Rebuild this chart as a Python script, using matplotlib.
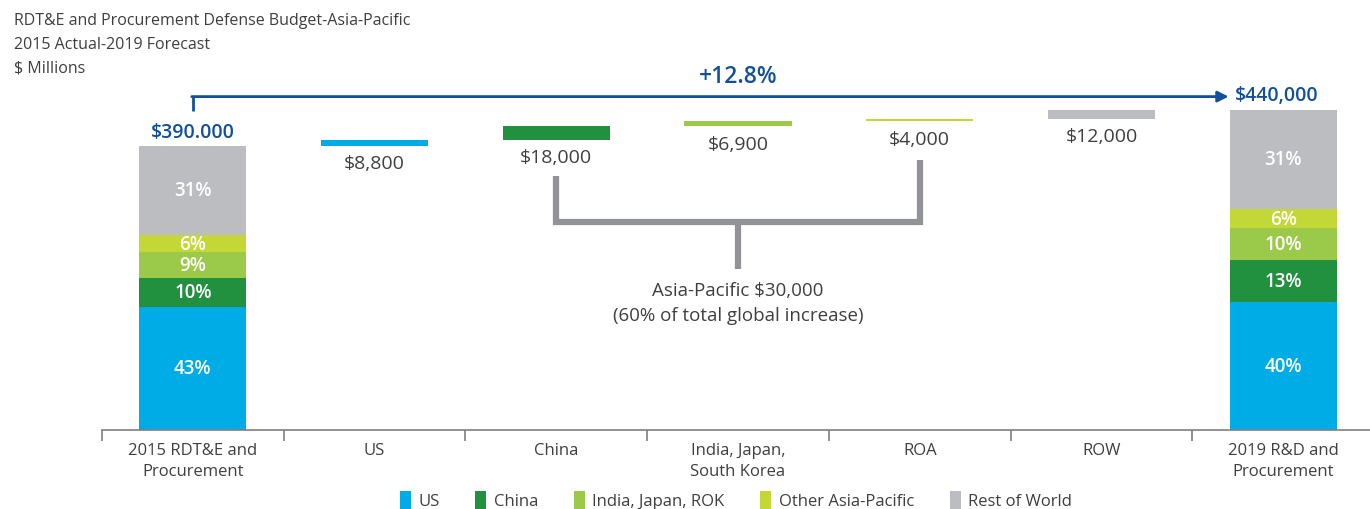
import matplotlib
matplotlib.use("Agg")
import matplotlib.pyplot as plt
from matplotlib.patches import Patch

plt.rcParams['font.family'] = ['Open Sans', 'DejaVu Sans']

# ---- data ----
categories = ["2015 RDT&E and\nProcurement", "US", "China", "India, Japan,\nSouth Korea",
              "ROA", "ROW", "2019 R&D and\nProcurement"]
segments = ["US", "China", "India, Japan, ROK", "Other Asia-Pacific", "Rest of World"]
total_2015 = 390000
total_2019 = 440000
share_2015 = [43, 10, 9, 6, 31]
share_2019 = [40, 13, 10, 6, 31]
delta_values = [8800, 18000, 6900, 4000, 12000]
delta_labels = ["$8,800", "$18,000", "$6,900", "$4,000", "$12,000"]
total_labels = ["$390.000", "$440,000"]
growth_label = "+12.8%"
asia_pacific_note = "Asia-Pacific $30,000\n(60% of total global increase)"

colors = ["#00ace6", "#21913f", "#9bca4a", "#c3d836", "#bcbdc1"]
blue = "#13509a"
gray_text = "#3f3f3f"
bracket_gray = "#929396"

fig = plt.figure(figsize=(13.7, 5.1), dpi=100)
ax = fig.add_axes([102/1370, 79/510, 1272/1370, 371/510])
px = 1373.3  # data units per pixel
ax.set_ylim(0, 371*px)
ax.set_xlim(-0.5, 6.5)
bw = 0.59

def stacked(x, total, shares):
    s = sum(shares)
    bottom = 0
    for sh, c in zip(shares, colors):
        h = total*sh/s
        ax.bar(x, h, bottom=bottom, width=bw, color=c, linewidth=0)
        ax.text(x, bottom + h/2, f"{sh}%", ha='center', va='center', color='white',
                fontsize=13.5, fontweight='semibold')
        bottom += h

stacked(0, total_2015, share_2015)
stacked(6, total_2019, share_2019)

# waterfall deltas
run = total_2015
for i, (v, lab, c) in enumerate(zip(delta_values, delta_labels, colors)):
    x = i + 1
    ax.bar(x, v, bottom=run, width=bw, color=c, linewidth=0)
    ax.annotate(lab, (x, run), xytext=(0, -6), textcoords='offset points',
                ha='center', va='top', fontsize=14, color=gray_text)
    run += v

# totals
ax.annotate(total_labels[0], (0, total_2015), xytext=(0, 3), textcoords='offset points',
            ha='center', va='bottom', fontsize=14, fontweight='semibold', color=blue)
y_arrow = total_2019 + 13*px
ax.plot([0, 0], [total_2015 + 35*px, y_arrow], color=blue, lw=2, solid_capstyle='butt')
ax.annotate('', xy=(5.70, y_arrow), xytext=(-0.006, y_arrow),
            arrowprops=dict(arrowstyle='-|>', color=blue, lw=2, mutation_scale=16,
                            shrinkA=0, shrinkB=0))
ax.text(5.735, y_arrow + 2*px, total_labels[1], ha='left', va='center', fontsize=14,
        fontweight='semibold', color=blue)
ax.text(3, y_arrow + 21*px, growth_label, ha='center', va='center', fontsize=16.5,
        fontweight='semibold', color=blue)

# bracket
yb = 208*px
ax.plot([2, 2, 4, 4], [254*px, yb, yb, 270*px], color=bracket_gray, lw=4.5,
        solid_joinstyle='miter', solid_capstyle='butt')
ax.plot([3, 3], [yb, 161*px], color=bracket_gray, lw=4.5, solid_capstyle='butt')
ax.text(3, 149*px, asia_pacific_note, ha='center', va='top', fontsize=13.5,
        color=gray_text, linespacing=1.52)

# axes styling
for s in ['top', 'right', 'left']:
    ax.spines[s].set_visible(False)
ax.spines['bottom'].set_color('#7f7f7f')
ax.spines['bottom'].set_linewidth(1.2)
ax.set_yticks([])
ax.set_xticks(range(7))
ax.set_xticklabels(categories, fontsize=12, color=gray_text, linespacing=1.35)
ax.tick_params(axis='x', which='major', length=0, pad=9)
ax.set_xticks([i - 0.5 for i in range(7)], minor=True)
ax.tick_params(axis='x', which='minor', length=8, width=1.2, color='#7f7f7f', direction='out')

# title
fig.text(14/1370, 1 - 13/510,
         "RDT&E and Procurement Defense Budget-Asia-Pacific\n2015 Actual-2019 Forecast\n$ Millions",
         ha='left', va='top', fontsize=11.5, color=gray_text, linespacing=1.65)

# legend
handles = [Patch(facecolor=c, edgecolor='none') for c in colors]
fig.legend(handles, segments, loc='center', bbox_to_anchor=(736/1370, 1 - 501/510), ncol=5,
           frameon=False, fontsize=12, handlelength=0.65, handleheight=1.3, handletextpad=0.45,
           columnspacing=2.15, labelcolor=gray_text)

fig.savefig("out.png", dpi=100)
